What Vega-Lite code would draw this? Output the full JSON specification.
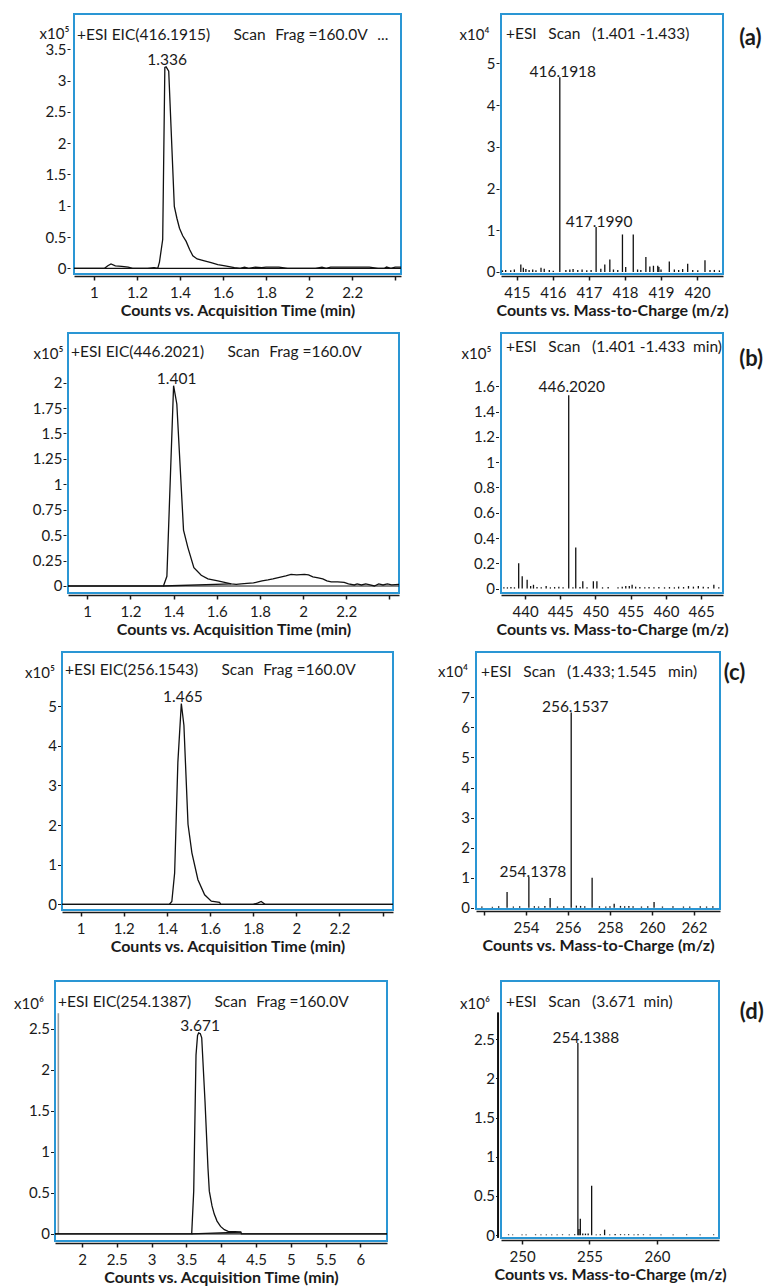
{
"$schema": "https://vega.github.io/schema/vega-lite/v6.json",
"padding": {"left": 12, "top": 11, "right": 0, "bottom": 0},
"background": "white",
"spacing": 23,
"config": {
  "font": "Lato",
  "view": {"stroke": "#2a96d4", "strokeWidth": 2},
  "axis": {"grid": false, "labelFont": "Lato", "labelFontSize": 15, "labelColor": "#1a1a1a", "titleFont": "Lato", "titleColor": "#1a1a1a", "tickColor": "#1a1a1a", "domainColor": "#1a1a1a", "labelFlush": false, "labelOverlap": false, "format": "~g", "tickCount": 40},
  "axisX": {"offset": 2, "domainWidth": 1.5, "tickWidth": 1.5, "tickSize": 4, "labelPadding": 5, "titleFontWeight": "bold", "titleFontSize": 16, "titlePadding": 2},
  "axisY": {"domain": false, "tickSize": 3, "tickWidth": 1, "labelPadding": 1, "titleAngle": 0, "titleAlign": "right", "titleBaseline": "middle", "titleFontWeight": "normal", "titleFontSize": 15},
  "title": {"font": "Lato", "fontSize": 15.5, "fontWeight": "normal", "color": "#1a1a1a", "anchor": "start", "frame": "group", "baseline": "middle", "offset": -29},
  "line": {"color": "#111111", "strokeWidth": 1.3},
  "rule": {"color": "#111111", "strokeWidth": 1.2},
  "text": {"font": "Lato", "fontSize": 15.5, "color": "#1a1a1a"}
},
"datasets": {
  "zero": [{"v": 0}],
  "blank": [{}],
  "aL": [
    {"t":0.908,"v":0,"s":"trace"},{"t":1.0,"v":0,"s":"trace"},{"t":1.05,"v":0,"s":"trace"},{"t":1.065,"v":0.04,"s":"trace"},{"t":1.08,"v":0.07,"s":"trace"},{"t":1.1,"v":0.04,"s":"trace"},{"t":1.13,"v":0.03,"s":"trace"},{"t":1.16,"v":0.02,"s":"trace"},{"t":1.18,"v":0,"s":"trace"},{"t":1.25,"v":0,"s":"trace"},{"t":1.28,"v":0.01,"s":"trace"},{"t":1.297,"v":0,"s":"trace"},{"t":1.305,"v":0.1,"s":"trace"},{"t":1.32,"v":0.46,"s":"trace"},{"t":1.33,"v":3.21,"s":"trace"},{"t":1.336,"v":3.22,"s":"trace"},{"t":1.348,"v":3.15,"s":"trace"},{"t":1.374,"v":0.99,"s":"trace"},{"t":1.386,"v":0.8,"s":"trace"},{"t":1.398,"v":0.64,"s":"trace"},{"t":1.413,"v":0.52,"s":"trace"},{"t":1.429,"v":0.43,"s":"trace"},{"t":1.445,"v":0.3,"s":"trace"},{"t":1.46,"v":0.2,"s":"trace"},{"t":1.48,"v":0.15,"s":"trace"},{"t":1.514,"v":0.12,"s":"trace"},{"t":1.545,"v":0.09,"s":"trace"},{"t":1.576,"v":0.06,"s":"trace"},{"t":1.61,"v":0.04,"s":"trace"},{"t":1.653,"v":0.01,"s":"trace"},{"t":1.68,"v":0,"s":"trace"},{"t":1.7,"v":0.02,"s":"trace"},{"t":1.72,"v":0,"s":"trace"},{"t":1.75,"v":0.02,"s":"trace"},{"t":1.78,"v":0.01,"s":"trace"},{"t":1.8,"v":0.02,"s":"trace"},{"t":1.86,"v":0.02,"s":"trace"},{"t":1.9,"v":0,"s":"trace"},{"t":2.03,"v":0,"s":"trace"},{"t":2.06,"v":0.02,"s":"trace"},{"t":2.08,"v":0,"s":"trace"},{"t":2.1,"v":0.02,"s":"trace"},{"t":2.28,"v":0.02,"s":"trace"},{"t":2.32,"v":0,"s":"trace"},{"t":2.35,"v":0,"s":"trace"},{"t":2.36,"v":0.02,"s":"trace"},{"t":2.38,"v":0,"s":"trace"},{"t":2.4,"v":0.02,"s":"trace"},{"t":2.427,"v":0.02,"s":"trace"}
  ],
  "aLpk": [{"t":1.336,"v":3.22,"label":"1.336"}],
  "bL": [
    {"t":0.911,"v":0,"s":"trace"},{"t":1.353,"v":0,"s":"trace"},{"t":1.369,"v":0.095,"s":"trace"},{"t":1.4,"v":1.97,"s":"trace"},{"t":1.415,"v":1.79,"s":"trace"},{"t":1.446,"v":0.55,"s":"trace"},{"t":1.466,"v":0.38,"s":"trace"},{"t":1.494,"v":0.18,"s":"trace"},{"t":1.528,"v":0.105,"s":"trace"},{"t":1.559,"v":0.07,"s":"trace"},{"t":1.605,"v":0.05,"s":"trace"},{"t":1.667,"v":0.02,"s":"trace"},{"t":1.69,"v":0.015,"s":"trace"},{"t":1.713,"v":0.02,"s":"trace"},{"t":1.74,"v":0.025,"s":"trace"},{"t":1.77,"v":0.03,"s":"trace"},{"t":1.79,"v":0.04,"s":"trace"},{"t":1.81,"v":0.05,"s":"trace"},{"t":1.837,"v":0.06,"s":"trace"},{"t":1.86,"v":0.07,"s":"trace"},{"t":1.89,"v":0.085,"s":"trace"},{"t":1.92,"v":0.1,"s":"trace"},{"t":1.944,"v":0.115,"s":"trace"},{"t":1.97,"v":0.11,"s":"trace"},{"t":2.006,"v":0.115,"s":"trace"},{"t":2.025,"v":0.11,"s":"trace"},{"t":2.045,"v":0.09,"s":"trace"},{"t":2.07,"v":0.08,"s":"trace"},{"t":2.091,"v":0.07,"s":"trace"},{"t":2.11,"v":0.05,"s":"trace"},{"t":2.13,"v":0.04,"s":"trace"},{"t":2.16,"v":0.04,"s":"trace"},{"t":2.19,"v":0.035,"s":"trace"},{"t":2.21,"v":0.02,"s":"trace"},{"t":2.237,"v":0.01,"s":"trace"},{"t":2.25,"v":0.02,"s":"trace"},{"t":2.27,"v":0.01,"s":"trace"},{"t":2.29,"v":0.02,"s":"trace"},{"t":2.31,"v":0.01,"s":"trace"},{"t":2.33,"v":0,"s":"trace"},{"t":2.35,"v":0.02,"s":"trace"},{"t":2.37,"v":0.01,"s":"trace"},{"t":2.39,"v":0.02,"s":"trace"},{"t":2.41,"v":0.01,"s":"trace"},{"t":2.444,"v":0.015,"s":"trace"},
    {"t":1.353,"v":0,"s":"base"},{"t":1.667,"v":0.02,"s":"base"}
  ],
  "bLpk": [{"t":1.4,"v":1.97,"label":"1.401"}],
  "cL": [
    {"t":0.914,"v":0,"s":"trace"},{"t":1.412,"v":0,"s":"trace"},{"t":1.423,"v":0.07,"s":"trace"},{"t":1.436,"v":0.79,"s":"trace"},{"t":1.451,"v":3.59,"s":"trace"},{"t":1.467,"v":5.07,"s":"trace"},{"t":1.479,"v":4.52,"s":"trace"},{"t":1.498,"v":2.02,"s":"trace"},{"t":1.516,"v":1.3,"s":"trace"},{"t":1.544,"v":0.62,"s":"trace"},{"t":1.575,"v":0.24,"s":"trace"},{"t":1.606,"v":0.08,"s":"trace"},{"t":1.644,"v":0.05,"s":"trace"},{"t":1.65,"v":0,"s":"trace"},{"t":1.8,"v":0,"s":"trace"},{"t":1.82,"v":0.03,"s":"trace"},{"t":1.837,"v":0.07,"s":"trace"},{"t":1.855,"v":0,"s":"trace"},{"t":2.448,"v":0,"s":"trace"}
  ],
  "cLpk": [{"t":1.467,"v":5.07,"label":"1.465"}],
  "dL": [
    {"t":1.612,"v":0,"s":"trace"},{"t":3.576,"v":0,"s":"trace"},{"t":3.605,"v":0.52,"s":"trace"},{"t":3.638,"v":2.18,"s":"trace"},{"t":3.66,"v":2.42,"s":"trace"},{"t":3.676,"v":2.45,"s":"trace"},{"t":3.7,"v":2.44,"s":"trace"},{"t":3.72,"v":2.39,"s":"trace"},{"t":3.767,"v":1.62,"s":"trace"},{"t":3.81,"v":0.8,"s":"trace"},{"t":3.829,"v":0.52,"s":"trace"},{"t":3.868,"v":0.34,"s":"trace"},{"t":3.9,"v":0.24,"s":"trace"},{"t":3.94,"v":0.155,"s":"trace"},{"t":3.99,"v":0.09,"s":"trace"},{"t":4.045,"v":0.05,"s":"trace"},{"t":4.1,"v":0.03,"s":"trace"},{"t":4.2,"v":0.025,"s":"trace"},{"t":4.284,"v":0.02,"s":"trace"},{"t":4.29,"v":0,"s":"trace"},{"t":6.382,"v":0,"s":"trace"},
    {"t":3.576,"v":0,"s":"base"},{"t":4.284,"v":0.02,"s":"base"}
  ],
  "dLpk": [{"t":3.676,"v":2.45,"label":"3.671"}],
  "dLscan": [{"t":1.66,"v":0,"v2":2.69}],
  "aR": [
    {"m":416.1918,"v":4.67},{"m":417.199,"v":1.08},{"m":417.44,"v":0.18},{"m":417.58,"v":0.3},{"m":417.93,"v":0.9},{"m":418.02,"v":0.12},{"m":418.23,"v":0.9},{"m":418.58,"v":0.36},{"m":418.79,"v":0.15},{"m":418.94,"v":0.12},{"m":419.23,"v":0.25},{"m":419.74,"v":0.2},{"m":420.22,"v":0.28},
    {"m":414.6,"v":0.04},{"m":414.69,"v":0.05},{"m":414.83,"v":0.04},{"m":414.93,"v":0.06},{"m":415.11,"v":0.18},{"m":415.18,"v":0.1},{"m":415.25,"v":0.07},{"m":415.34,"v":0.05},{"m":415.44,"v":0.06},{"m":415.53,"v":0.04},{"m":415.67,"v":0.1},{"m":415.76,"v":0.08},{"m":415.9,"v":0.05},{"m":416.01,"v":0.03},{"m":416.36,"v":0.05},{"m":416.47,"v":0.06},{"m":416.56,"v":0.07},{"m":416.69,"v":0.05},{"m":416.81,"v":0.06},{"m":416.94,"v":0.04},{"m":417.06,"v":0.05},{"m":417.33,"v":0.08},{"m":417.68,"v":0.06},{"m":417.8,"v":0.05},{"m":418.35,"v":0.06},{"m":418.44,"v":0.05},{"m":418.69,"v":0.13},{"m":418.91,"v":0.15},{"m":419.0,"v":0.06},{"m":419.37,"v":0.06},{"m":419.49,"v":0.05},{"m":419.6,"v":0.07},{"m":419.88,"v":0.05},{"m":420.02,"v":0.04},{"m":420.36,"v":0.05},{"m":420.48,"v":0.05},{"m":420.62,"v":0.04}
  ],
  "aRpk": [{"m":416.1918,"v":4.67,"label":"416.1918"},{"m":417.199,"v":1.08,"label":"417.1990"}],
  "bR": [
    {"m":446.202,"v":1.53},{"m":447.2,"v":0.325},{"m":439.1,"v":0.2},{"m":439.6,"v":0.097},{"m":440.3,"v":0.07},{"m":441.2,"v":0.03},{"m":448.2,"v":0.058},{"m":449.7,"v":0.058},{"m":450.2,"v":0.058},
    {"m":437,"v":0.01},{"m":437.5,"v":0.01},{"m":438,"v":0.012},{"m":438.5,"v":0.01},{"m":440.8,"v":0.02},{"m":441.7,"v":0.012},{"m":442.3,"v":0.01},{"m":443,"v":0.02},{"m":443.6,"v":0.01},{"m":444.2,"v":0.012},{"m":444.8,"v":0.015},{"m":445.4,"v":0.01},{"m":446.8,"v":0.01},{"m":447.8,"v":0.012},{"m":448.8,"v":0.01},{"m":451,"v":0.01},{"m":451.8,"v":0.012},{"m":453.2,"v":0.01},{"m":453.8,"v":0.015},{"m":454.3,"v":0.02},{"m":454.8,"v":0.02},{"m":455.2,"v":0.03},{"m":455.7,"v":0.015},{"m":456.3,"v":0.012},{"m":457,"v":0.01},{"m":457.6,"v":0.012},{"m":458.3,"v":0.01},{"m":459,"v":0.012},{"m":459.8,"v":0.01},{"m":460.5,"v":0.012},{"m":461.2,"v":0.01},{"m":461.8,"v":0.015},{"m":462.5,"v":0.012},{"m":463.2,"v":0.02},{"m":463.9,"v":0.015},{"m":464.6,"v":0.02},{"m":465.3,"v":0.015},{"m":466,"v":0.012},{"m":466.8,"v":0.03},{"m":467.5,"v":0.01}
  ],
  "bRpk": [{"m":446.202,"v":1.53,"label":"446.2020"}],
  "cR": [
    {"m":256.1537,"v":6.5},{"m":254.1378,"v":1.02},{"m":253.1,"v":0.52},{"m":255.15,"v":0.32},{"m":257.15,"v":1.0},{"m":258.2,"v":0.13},{"m":260.1,"v":0.19},
    {"m":251.9,"v":0.04},{"m":252.4,"v":0.03},{"m":252.7,"v":0.05},{"m":253.4,"v":0.04},{"m":253.7,"v":0.05},{"m":254.4,"v":0.05},{"m":254.6,"v":0.04},{"m":254.9,"v":0.06},{"m":255.5,"v":0.04},{"m":255.8,"v":0.05},{"m":256.4,"v":0.07},{"m":256.6,"v":0.06},{"m":256.8,"v":0.05},{"m":257.5,"v":0.05},{"m":257.8,"v":0.04},{"m":258.0,"v":0.05},{"m":258.5,"v":0.06},{"m":258.7,"v":0.05},{"m":258.9,"v":0.06},{"m":259.1,"v":0.05},{"m":259.5,"v":0.04},{"m":259.8,"v":0.05},{"m":260.5,"v":0.04},{"m":261.0,"v":0.05},{"m":261.5,"v":0.04},{"m":261.8,"v":0.04},{"m":262.3,"v":0.05},{"m":262.6,"v":0.04},{"m":262.9,"v":0.05}
  ],
  "cRpk": [{"m":256.1537,"v":6.5,"label":"256.1537"},{"m":254.1378,"v":1.02,"label":"254.1378"}],
  "dR": [
    {"m":254.1388,"v":2.45},{"m":254.22,"v":0.08},{"m":254.32,"v":0.21},{"m":255.16,"v":0.63},{"m":256.12,"v":0.07},
    {"m":249.0,"v":0.01},{"m":249.3,"v":0.008},{"m":250.0,"v":0.01},{"m":250.3,"v":0.01},{"m":251.0,"v":0.01},{"m":251.4,"v":0.008},{"m":251.8,"v":0.01},{"m":252.2,"v":0.01},{"m":252.6,"v":0.01},{"m":253.0,"v":0.01},{"m":253.5,"v":0.01},{"m":253.9,"v":0.012},{"m":254.5,"v":0.02},{"m":254.7,"v":0.02},{"m":254.9,"v":0.02},{"m":255.5,"v":0.01},{"m":255.8,"v":0.012},{"m":256.5,"v":0.01},{"m":256.9,"v":0.015},{"m":257.3,"v":0.012},{"m":257.6,"v":0.01},{"m":257.9,"v":0.012},{"m":258.3,"v":0.01},{"m":258.6,"v":0.012},{"m":259.0,"v":0.01},{"m":259.5,"v":0.01},{"m":260.3,"v":0.01},{"m":261.2,"v":0.01},{"m":262.2,"v":0.01},{"m":263.2,"v":0.01},{"m":264.2,"v":0.01}
  ],
  "dRpk": [{"m":254.1388,"v":2.45,"label":"254.1388"}],
  "dRaxis": [{"m":248.22,"v":-0.035,"v2":2.84}]
},
"vconcat": [
  {"spacing": 11, "vconcat": [
    {"spacing": 0, "bounds": "flush", "hconcat": [
      {"width": 19, "height": 1, "view": {"stroke": null}, "data": {"name": "blank"}, "mark": {"type": "point", "opacity": 0}, "encoding": {}},
      {"width": 327, "height": 260,
       "title": {"text": "+ESI EIC(416.1915)\u2003\u2003Scan\u2002\u2009Frag =160.0V\u2002\u2009...", "dx": 3},
       "layer": [
         {"data": {"name": "aL"}, "mark": {"type": "line", "clip": true},
          "encoding": {
            "x": {"field": "t", "type": "quantitative", "scale": {"domain": [0.908, 2.427], "nice": false, "zero": false}, "axis": {"values": [1,1.2,1.4,1.6,1.8,2,2.2,2.4], "labelExpr": "datum.value > 2.3 ? '' : datum.label", "title": "Counts vs. Acquisition Time (min)"}},
            "y": {"field": "v", "type": "quantitative", "scale": {"domain": [-0.091, 4.064], "nice": false, "zero": false}, "axis": {"values": [0,0.5,1,1.5,2,2.5,3,3.5], "title": "x10\u2075", "offset": 4, "titleX": -1, "titleY": 19.3}},
            "detail": {"field": "s"}}},
         {"data": {"name": "zero"}, "mark": "rule", "encoding": {"y": {"field": "v", "type": "quantitative"}}},
         {"data": {"name": "aLpk"}, "mark": {"type": "text", "dx": 1, "dy": -1.5, "baseline": "alphabetic"},
          "encoding": {"x": {"field": "t", "type": "quantitative"}, "y": {"field": "v", "type": "quantitative"}, "text": {"field": "label"}}}
       ]},
      {"width": 100, "height": 1, "view": {"stroke": null}, "data": {"name": "blank"}, "mark": {"type": "point", "opacity": 0}, "encoding": {}},
      {"width": 222, "height": 260,
       "title": {"text": "+ESI\u2002\u2009\u2009Scan\u2002\u2009\u2009(1.401 -1.433)", "dx": 5, "offset": -28},
       "layer": [
         {"data": {"name": "aR"}, "mark": {"type": "rule", "strokeWidth": 1.3},
          "encoding": {
            "x": {"field": "m", "type": "quantitative", "scale": {"domain": [414.56, 420.72], "nice": false, "zero": false}, "axis": {"values": [415,416,417,418,419,420], "title": "Counts vs. Mass-to-Charge (m/z)"}},
            "y": {"field": "v", "type": "quantitative", "scale": {"domain": [-0.048, 6.187], "nice": false, "zero": false}, "axis": {"values": [0,1,2,3,4,5], "title": "x10\u2074", "offset": 2, "titleX": -10, "titleY": 20.3}},
            "y2": {"datum": 0}}},
         {"data": {"name": "aRpk"}, "mark": {"type": "text", "dx": 3, "dy": 0, "baseline": "alphabetic"},
          "encoding": {"x": {"field": "m", "type": "quantitative"}, "y": {"field": "v", "type": "quantitative"}, "text": {"field": "label"}}},
         {"data": {"values": [{"tag": "(a)"}]}, "mark": {"type": "text", "fontSize": 22, "fontWeight": "bold"},
          "encoding": {"x": {"datum": 421.48, "type": "quantitative"}, "y": {"datum": 5.6, "type": "quantitative"}, "text": {"field": "tag"}}}
       ]}
    ]},
    {"spacing": 0, "bounds": "flush", "hconcat": [
      {"width": 13, "height": 1, "view": {"stroke": null}, "data": {"name": "blank"}, "mark": {"type": "point", "opacity": 0}, "encoding": {}},
      {"width": 331, "height": 260,
       "title": {"text": "+ESI EIC(446.2021)\u2003\u2003Scan\u2002\u2009Frag =160.0V", "dx": 3, "offset": -27.5},
       "layer": [
         {"data": {"name": "bL"}, "mark": {"type": "line", "clip": true},
          "encoding": {
            "x": {"field": "t", "type": "quantitative", "scale": {"domain": [0.911, 2.444], "nice": false, "zero": false}, "axis": {"values": [1,1.2,1.4,1.6,1.8,2,2.2,2.4], "labelExpr": "datum.value > 2.3 ? '' : datum.label", "title": "Counts vs. Acquisition Time (min)"}},
            "y": {"field": "v", "type": "quantitative", "scale": {"domain": [-0.069, 2.488], "nice": false, "zero": false}, "axis": {"values": [0,0.25,0.5,0.75,1,1.25,1.5,1.75,2], "title": "x10\u2075", "offset": 2, "titleX": -3, "titleY": 20.6}},
            "detail": {"field": "s"}}},
         {"data": {"name": "zero"}, "mark": "rule", "encoding": {"y": {"field": "v", "type": "quantitative"}}},
         {"data": {"name": "bLpk"}, "mark": {"type": "text", "dx": 3, "dy": -1.5, "baseline": "alphabetic"},
          "encoding": {"x": {"field": "t", "type": "quantitative"}, "y": {"field": "v", "type": "quantitative"}, "text": {"field": "label"}}}
       ]},
      {"width": 102, "height": 1, "view": {"stroke": null}, "data": {"name": "blank"}, "mark": {"type": "point", "opacity": 0}, "encoding": {}},
      {"width": 222, "height": 260,
       "title": {"text": "+ESI\u2002\u2009\u2009Scan\u2002\u2009\u2009(1.401 -1.433\u2002min)", "dx": 5, "offset": -22.5},
       "layer": [
         {"data": {"name": "bR"}, "mark": {"type": "rule", "strokeWidth": 1.3},
          "encoding": {
            "x": {"field": "m", "type": "quantitative", "scale": {"domain": [436.59, 468.1], "nice": false, "zero": false}, "axis": {"values": [440,445,450,455,460,465], "title": "Counts vs. Mass-to-Charge (m/z)"}},
            "y": {"field": "v", "type": "quantitative", "scale": {"domain": [-0.035, 2.022], "nice": false, "zero": false}, "axis": {"values": [0,0.2,0.4,0.6,0.8,1,1.2,1.4,1.6], "title": "x10\u2075", "offset": 2.5, "titleX": -7.5, "titleY": 20.6}},
            "y2": {"datum": 0}}},
         {"data": {"name": "bRpk"}, "mark": {"type": "text", "dx": 3, "dy": -3, "baseline": "alphabetic"},
          "encoding": {"x": {"field": "m", "type": "quantitative"}, "y": {"field": "v", "type": "quantitative"}, "text": {"field": "label"}}},
         {"data": {"values": [{"tag": "(b)"}]}, "mark": {"type": "text", "fontSize": 22, "fontWeight": "bold"},
          "encoding": {"x": {"datum": 472.1, "type": "quantitative"}, "y": {"datum": 1.82, "type": "quantitative"}, "text": {"field": "tag"}}}
       ]}
    ]},
    {"spacing": 0, "bounds": "flush", "hconcat": [
      {"width": 7, "height": 1, "view": {"stroke": null}, "data": {"name": "blank"}, "mark": {"type": "point", "opacity": 0}, "encoding": {}},
      {"width": 331, "height": 258,
       "title": {"text": "+ESI EIC(256.1543)\u2003\u2003Scan\u2002\u2009Frag =160.0V", "dx": 3, "offset": -26.8},
       "layer": [
         {"data": {"name": "cL"}, "mark": {"type": "line", "clip": true},
          "encoding": {
            "x": {"field": "t", "type": "quantitative", "scale": {"domain": [0.914, 2.448], "nice": false, "zero": false}, "axis": {"values": [1,1.2,1.4,1.6,1.8,2,2.2,2.4], "labelExpr": "datum.value > 2.3 ? '' : datum.label", "title": "Counts vs. Acquisition Time (min)"}},
            "y": {"field": "v", "type": "quantitative", "scale": {"domain": [-0.144, 6.37], "nice": false, "zero": false}, "axis": {"values": [0,1,2,3,4,5], "title": "x10\u2075", "offset": 1.5, "titleX": -6, "titleY": 20.6}},
            "detail": {"field": "s"}}},
         {"data": {"name": "zero"}, "mark": "rule", "encoding": {"y": {"field": "v", "type": "quantitative"}}},
         {"data": {"name": "cLpk"}, "mark": {"type": "text", "dx": 1.5, "dy": -1.5, "baseline": "alphabetic"},
          "encoding": {"x": {"field": "t", "type": "quantitative"}, "y": {"field": "v", "type": "quantitative"}, "text": {"field": "label"}}}
       ]},
      {"width": 83, "height": 1, "view": {"stroke": null}, "data": {"name": "blank"}, "mark": {"type": "point", "opacity": 0}, "encoding": {}},
      {"width": 244, "height": 257,
       "title": {"text": "+ESI\u2002\u2009\u2009Scan\u2002\u2009\u2009(1.433;\u20091.545\u2003min)", "dx": 5, "offset": -28},
       "layer": [
         {"data": {"name": "cR"}, "mark": {"type": "rule", "strokeWidth": 1.3},
          "encoding": {
            "x": {"field": "m", "type": "quantitative", "scale": {"domain": [251.62, 263.24], "nice": false, "zero": false}, "axis": {"values": [252,254,256,258,260,262], "labelExpr": "datum.value < 253 ? '' : datum.label", "title": "Counts vs. Mass-to-Charge (m/z)"}},
            "y": {"field": "v", "type": "quantitative", "scale": {"domain": [-0.043, 8.51], "nice": false, "zero": false}, "axis": {"values": [0,1,2,3,4,5,6,7], "title": "x10\u2074", "offset": 2.5, "titleX": -6, "titleY": 19.6}},
            "y2": {"datum": 0}}},
         {"data": {"name": "cRpk"}, "mark": {"type": "text", "dx": 4, "dy": -0.5, "baseline": "alphabetic"},
          "encoding": {"x": {"field": "m", "type": "quantitative"}, "y": {"field": "v", "type": "quantitative"}, "text": {"field": "label"}}},
         {"data": {"values": [{"tag": "(c)"}]}, "mark": {"type": "text", "fontSize": 22, "fontWeight": "bold"},
          "encoding": {"x": {"datum": 263.93, "type": "quantitative"}, "y": {"datum": 7.8, "type": "quantitative"}, "text": {"field": "tag"}}}
       ]}
    ]}
  ]},
  {"spacing": 0, "bounds": "flush", "hconcat": [
    {"width": 332, "height": 260,
     "title": {"text": "+ESI EIC(254.1387)\u2003\u2003Scan\u2002\u2009Frag =160.0V", "dx": 3, "offset": -29},
     "layer": [
       {"data": {"name": "dLscan"}, "mark": {"type": "rule", "color": "#9a9a9a", "strokeWidth": 1.6},
        "encoding": {"x": {"field": "t", "type": "quantitative"}, "y": {"field": "v", "type": "quantitative"}, "y2": {"field": "v2"}}},
       {"data": {"name": "dL"}, "mark": {"type": "line", "clip": true},
        "encoding": {
          "x": {"field": "t", "type": "quantitative", "scale": {"domain": [1.612, 6.382], "nice": false, "zero": false}, "axis": {"values": [2,2.5,3,3.5,4,4.5,5,5.5,6], "title": "Counts vs. Acquisition Time (min)"}},
          "y": {"field": "v", "type": "quantitative", "scale": {"domain": [-0.088, 3.083], "nice": false, "zero": false}, "axis": {"values": [0,0.5,1,1.5,2,2.5], "title": "x10\u2076", "offset": 1.5, "titleX": -10, "titleY": 22.3}},
          "detail": {"field": "s"}}},
       {"data": {"name": "zero"}, "mark": "rule", "encoding": {"y": {"field": "v", "type": "quantitative"}}},
       {"data": {"name": "dLpk"}, "mark": {"type": "text", "dx": 1.5, "dy": -1.5, "baseline": "alphabetic"},
        "encoding": {"x": {"field": "t", "type": "quantitative"}, "y": {"field": "v", "type": "quantitative"}, "text": {"field": "label"}}}
     ]},
    {"width": 114, "height": 1, "view": {"stroke": null}, "data": {"name": "blank"}, "mark": {"type": "point", "opacity": 0}, "encoding": {}},
    {"width": 218, "height": 257,
     "title": {"text": "+ESI\u2002\u2009\u2009Scan\u2002\u2009\u2009(3.671\u2002min)", "dx": 5, "offset": -29},
     "layer": [
       {"data": {"name": "dR"}, "mark": {"type": "rule", "strokeWidth": 1.3},
        "encoding": {
          "x": {"field": "m", "type": "quantitative", "scale": {"domain": [248.44, 264.6], "nice": false, "zero": false}, "axis": {"values": [250,255,260], "title": "Counts vs. Mass-to-Charge (m/z)"}},
          "y": {"field": "v", "type": "quantitative", "scale": {"domain": [-0.036, 3.24], "nice": false, "zero": false}, "axis": {"values": [0,0.5,1,1.5,2,2.5], "title": "x10\u2076", "offset": 2.5, "titleX": -9, "titleY": 22.3}},
          "y2": {"datum": 0}}},
       {"data": {"name": "dRaxis"}, "mark": {"type": "rule", "strokeWidth": 2},
        "encoding": {"x": {"field": "m", "type": "quantitative"}, "y": {"field": "v", "type": "quantitative"}, "y2": {"field": "v2"}}},
       {"data": {"name": "dRpk"}, "mark": {"type": "text", "dx": 8, "dy": 0, "baseline": "alphabetic"},
        "encoding": {"x": {"field": "m", "type": "quantitative"}, "y": {"field": "v", "type": "quantitative"}, "text": {"field": "label"}}},
       {"data": {"values": [{"tag": "(d)"}]}, "mark": {"type": "text", "fontSize": 22, "fontWeight": "bold"},
        "encoding": {"x": {"datum": 267.03, "type": "quantitative"}, "y": {"datum": 2.85, "type": "quantitative"}, "text": {"field": "tag"}}}
     ]}
  ]}
]
}
